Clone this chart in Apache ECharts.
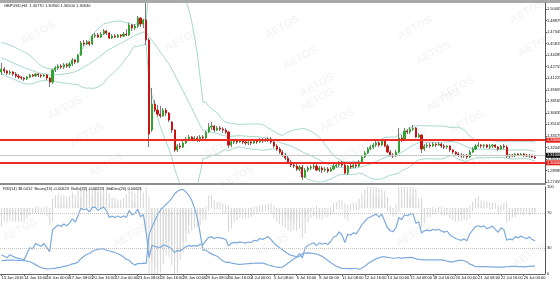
<!DOCTYPE html>
<html><head><meta charset="utf-8">
<script src="https://cdn.jsdelivr.net/npm/echarts@6/dist/echarts.min.js"></script>
<style>html,body{margin:0;padding:0;background:#fff}#c{width:560px;height:283px}</style>
</head><body><div id="c"></div>
<script>
const symbolName = 'GBPUSD,H4';
// x tick labels, one every 8 H4 bars
const tickLabels = ["13 Jun 2016","14 Jun 16:00","16 Jun 00:00","17 Jun 08:00","20 Jun 16:00","22 Jun 00:00","23 Jun 08:00","24 Jun 16:00","28 Jun 00:00","29 Jun 08:00","30 Jun 16:00","4 Jul 00:00","5 Jul 08:00","6 Jul 16:00","8 Jul 00:00","11 Jul 08:00","12 Jul 16:00","14 Jul 00:00","15 Jul 08:00","18 Jul 16:00","20 Jul 00:00","21 Jul 08:00","22 Jul 16:00","26 Jul 00:00"];
const barsPerTick = 8;
const totalSlots = 192;
// closes of the bars before the visible window (indicator warm-up)
const priorCloses = [1.4510,1.4525,1.4505,1.4490,1.4500,1.4480,1.4460,1.4440,1.4425,1.4410,1.4430,1.4420,1.4390,1.4350,1.4300,1.4270,1.4260,1.4200,1.4225];
// visible candles: [open, high, low, close]
const candles = [
[1.4205,1.4324,1.4165,1.4244],[1.4244,1.4271,1.4191,1.4218],[1.4218,1.4231,1.4165,1.4191],[1.4191,1.4231,1.4165,1.4205],
[1.4205,1.4218,1.4152,1.4178],[1.4178,1.4205,1.4125,1.4152],[1.4152,1.4178,1.4112,1.4138],[1.4138,1.4152,1.4099,1.4125],
[1.4125,1.4138,1.4085,1.4112],[1.4112,1.4152,1.4099,1.4138],[1.4138,1.4178,1.4125,1.4165],[1.4165,1.4178,1.4138,1.4152],
[1.4152,1.4191,1.4138,1.4178],[1.4178,1.4191,1.4138,1.4165],[1.4165,1.4178,1.4125,1.4152],[1.4152,1.4178,1.4138,1.4165],
[1.4165,1.4178,1.4099,1.4125],[1.4125,1.4138,1.4006,1.4072],[1.4072,1.4244,1.4045,1.4231],[1.4231,1.4284,1.4205,1.4258],
[1.4258,1.4311,1.4231,1.4284],[1.4284,1.4311,1.4244,1.4271],[1.4271,1.4324,1.4244,1.4298],[1.4298,1.4324,1.4258,1.4284],
[1.4284,1.4337,1.4258,1.4311],[1.4311,1.4390,1.4284,1.4364],[1.4364,1.4377,1.4311,1.4337],[1.4337,1.4444,1.4324,1.4430],
[1.4430,1.4616,1.4417,1.4590],[1.4590,1.4629,1.4550,1.4576],[1.4576,1.4629,1.4563,1.4603],[1.4603,1.4616,1.4550,1.4576],
[1.4576,1.4709,1.4563,1.4682],[1.4682,1.4722,1.4656,1.4696],[1.4696,1.4722,1.4656,1.4669],[1.4669,1.4735,1.4656,1.4709],
[1.4709,1.4775,1.4696,1.4749],[1.4749,1.4762,1.4696,1.4722],[1.4722,1.4735,1.4643,1.4656],[1.4656,1.4709,1.4643,1.4682],
[1.4682,1.4709,1.4656,1.4669],[1.4669,1.4709,1.4656,1.4696],[1.4696,1.4709,1.4656,1.4682],[1.4682,1.4735,1.4669,1.4709],
[1.4709,1.4775,1.4682,1.4696],[1.4696,1.4855,1.4682,1.4828],[1.4828,1.4842,1.4749,1.4789],[1.4789,1.4842,1.4762,1.4815],
[1.4815,1.4948,1.4789,1.4921],[1.4921,1.4935,1.4802,1.4842],[1.4842,1.4908,1.4789,1.4895],[1.4895,1.5120,1.4563,1.4629],
[1.4629,1.4656,1.3209,1.3382],[1.3435,1.3992,1.3408,1.3780],[1.3780,1.3833,1.3674,1.3700],[1.3700,1.3767,1.3621,1.3647],
[1.3647,1.3754,1.3594,1.3621],[1.3621,1.3727,1.3608,1.3700],[1.3700,1.3727,1.3621,1.3661],[1.3661,1.3674,1.3541,1.3568],
[1.3541,1.3554,1.3395,1.3435],[1.3435,1.3448,1.3143,1.3170],[1.3170,1.3249,1.3143,1.3223],[1.3223,1.3263,1.3183,1.3209],
[1.3209,1.3289,1.3196,1.3263],[1.3263,1.3342,1.3249,1.3316],[1.3316,1.3369,1.3289,1.3342],[1.3342,1.3355,1.3289,1.3316],
[1.3316,1.3355,1.3289,1.3329],[1.3329,1.3355,1.3276,1.3302],[1.3302,1.3369,1.3276,1.3342],[1.3342,1.3369,1.3302,1.3329],
[1.3329,1.3422,1.3302,1.3408],[1.3408,1.3528,1.3395,1.3475],[1.3475,1.3541,1.3435,1.3488],[1.3488,1.3501,1.3408,1.3435],
[1.3435,1.3488,1.3422,1.3462],[1.3462,1.3488,1.3422,1.3448],[1.3448,1.3475,1.3395,1.3435],[1.3435,1.3462,1.3382,1.3408],
[1.3408,1.3422,1.3196,1.3236],[1.3236,1.3302,1.3209,1.3276],[1.3276,1.3316,1.3249,1.3289],[1.3289,1.3302,1.3249,1.3276],
[1.3276,1.3316,1.3263,1.3289],[1.3289,1.3316,1.3249,1.3276],[1.3276,1.3302,1.3236,1.3263],[1.3263,1.3302,1.3236,1.3276],
[1.3276,1.3289,1.3236,1.3263],[1.3263,1.3316,1.3249,1.3289],[1.3289,1.3316,1.3249,1.3276],[1.3276,1.3329,1.3263,1.3302],
[1.3302,1.3329,1.3263,1.3289],[1.3289,1.3329,1.3276,1.3302],[1.3302,1.3342,1.3276,1.3316],[1.3316,1.3342,1.3249,1.3276],
[1.3276,1.3302,1.3196,1.3223],[1.3223,1.3249,1.3156,1.3183],[1.3183,1.3209,1.3117,1.3143],[1.3143,1.3170,1.3077,1.3103],
[1.3103,1.3130,1.3037,1.3063],[1.3063,1.3090,1.2984,1.3010],[1.3010,1.3037,1.2944,1.2971],[1.2971,1.2997,1.2931,1.2957],
[1.2957,1.2984,1.2891,1.2917],[1.2917,1.2971,1.2891,1.2944],[1.2944,1.2971,1.2772,1.2811],[1.2811,1.2931,1.2798,1.2904],
[1.2904,1.2957,1.2878,1.2931],[1.2931,1.2971,1.2904,1.2944],[1.2944,1.2984,1.2917,1.2957],[1.2957,1.2997,1.2891,1.2904],
[1.2904,1.2957,1.2878,1.2931],[1.2931,1.2957,1.2864,1.2904],[1.2904,1.2944,1.2878,1.2917],[1.2917,1.2944,1.2864,1.2891],
[1.2891,1.2944,1.2878,1.2917],[1.2917,1.2984,1.2904,1.2957],[1.2957,1.2997,1.2931,1.2971],[1.2971,1.3024,1.2944,1.3010],
[1.3010,1.3024,1.2944,1.2971],[1.2971,1.2984,1.2851,1.2864],[1.2864,1.2971,1.2838,1.2957],[1.2957,1.2984,1.2917,1.2944],
[1.2944,1.2997,1.2931,1.2971],[1.2971,1.2997,1.2931,1.2957],[1.2957,1.3037,1.2944,1.3010],[1.3010,1.3103,1.2997,1.3077],
[1.3077,1.3156,1.3063,1.3130],[1.3130,1.3209,1.3117,1.3183],[1.3183,1.3236,1.3170,1.3209],[1.3209,1.3263,1.3183,1.3236],
[1.3236,1.3289,1.3209,1.3263],[1.3263,1.3289,1.3209,1.3236],[1.3236,1.3316,1.3223,1.3289],[1.3289,1.3302,1.3209,1.3223],
[1.3223,1.3249,1.3130,1.3143],[1.3143,1.3170,1.3090,1.3103],[1.3103,1.3130,1.3063,1.3090],[1.3090,1.3170,1.3077,1.3143],
[1.3143,1.3462,1.3130,1.3329],[1.3329,1.3369,1.3276,1.3302],[1.3302,1.3462,1.3289,1.3422],[1.3422,1.3448,1.3382,1.3408],
[1.3408,1.3475,1.3382,1.3448],[1.3448,1.3501,1.3422,1.3462],[1.3462,1.3475,1.3329,1.3342],[1.3342,1.3395,1.3329,1.3369],
[1.3369,1.3382,1.3130,1.3183],[1.3183,1.3249,1.3156,1.3223],[1.3223,1.3263,1.3196,1.3236],[1.3236,1.3263,1.3196,1.3223],
[1.3223,1.3276,1.3209,1.3249],[1.3249,1.3263,1.3209,1.3236],[1.3236,1.3276,1.3223,1.3249],[1.3249,1.3263,1.3196,1.3223],
[1.3223,1.3249,1.3183,1.3209],[1.3209,1.3236,1.3183,1.3223],[1.3223,1.3236,1.3143,1.3170],[1.3170,1.3183,1.3117,1.3143],
[1.3143,1.3156,1.3090,1.3117],[1.3117,1.3143,1.3077,1.3103],[1.3103,1.3130,1.3063,1.3090],[1.3090,1.3117,1.3063,1.3103],
[1.3103,1.3117,1.3050,1.3077],[1.3077,1.3170,1.3063,1.3143],[1.3143,1.3209,1.3130,1.3183],[1.3183,1.3249,1.3170,1.3223],
[1.3223,1.3276,1.3209,1.3236],[1.3236,1.3249,1.3196,1.3223],[1.3223,1.3249,1.3196,1.3236],[1.3236,1.3249,1.3196,1.3209],
[1.3209,1.3249,1.3183,1.3223],[1.3223,1.3249,1.3196,1.3236],[1.3236,1.3249,1.3196,1.3209],[1.3209,1.3223,1.3156,1.3183],
[1.3183,1.3236,1.3170,1.3223],[1.3223,1.3249,1.3183,1.3209],[1.3209,1.3236,1.3063,1.3090],[1.3090,1.3117,1.3063,1.3103],
[1.3103,1.3117,1.3077,1.3090],[1.3090,1.3130,1.3077,1.3117],[1.3117,1.3130,1.3090,1.3103],[1.3103,1.3130,1.3090,1.3117],
[1.3117,1.3130,1.3077,1.3103],[1.3103,1.3117,1.3077,1.3090],[1.3090,1.3117,1.3063,1.3103],[1.3103,1.3103,1.3063,1.3077],
[1.3077,1.3090,1.3050,1.3063]
];
const levels = [1.33000, 1.30000];
const priceTickStart = 1.27455, priceTickStep = 0.0153, priceMax = 1.51208;
const rsiLabels = [0, 30, 70, 100];
const rsiLevels = [30, 70];
const watermarks = [[38,33],[182,40],[282,27],[300,58],[317,85],[415,28],[433,53],[457,88],[527,12],[535,45],[65,108],[87,135],[106,165],[222,147],[237,177],[317,100],[337,120],[355,152],[443,100],[467,122],[488,157],[130,236],[272,245],[413,235],[530,255],[20,230]];

// ---- indicators from the candles ----
const n = candles.length;
const closes = priorCloses.concat(candles.map(c => c[3]));
const off = priorCloses.length;
const bbMid = [], bbUp = [], bbLo = [], sdv = [];
for (let i = 0; i < n; i++) {
  const j = i + off;
  const w = closes.slice(j - 19, j + 1);
  const m = w.reduce((a, b) => a + b, 0) / 20;
  const s = Math.sqrt(w.reduce((a, b) => a + (b - m) * (b - m), 0) / 20);
  bbMid.push(m); bbUp.push(m + 2 * s); bbLo.push(m - 2 * s); sdv.push(s);
}
let ag = 0, al = 0; const rsiAll = [];
for (let j = 1; j < closes.length; j++) {
  const d = closes[j] - closes[j - 1];
  const g = Math.max(d, 0), l = Math.max(-d, 0);
  if (j <= 14) { ag += g / 14; al += l / 14; } else { ag = (ag * 13 + g) / 14; al = (al * 13 + l) / 14; }
  rsiAll[j] = al === 0 ? 100 : 100 - 100 / (1 + ag / al);
}
const rsi = candles.map((c, i) => rsiAll[i + off]);
const ema = []; let e = closes.slice(0, 13).reduce((a, b) => a + b, 0) / 13;
for (let j = 13; j < closes.length; j++) { e = e + (closes[j] - e) * 2 / 14; ema[j] = e; }
const bulls = candles.map((c, i) => c[1] - ema[i + off]);
const bears = candles.map((c, i) => c[2] - ema[i + off]);

const last = candles[n - 1];
const slots = Array.from({length: totalSlots}, (_, i) => String(i));
const FF = '"Liberation Sans", Arial, sans-serif';

const chart = echarts.init(document.getElementById('c'), null, {renderer: 'canvas'});
const graphics = [
  {type: 'rect', shape: {x: 0, y: 0, width: 560, height: 3}, style: {fill: '#a9a9a9'}, silent: true},
  {type: 'rect', shape: {x: 0, y: 183, width: 546, height: 2}, style: {fill: '#8c8c8c'}, silent: true},
  {type: 'text', x: 4, y: 4, style: {text: symbolName + '  ' + last.map(v => v.toFixed(5)).join(' '), font: '4px ' + FF, fill: '#111'}, silent: true},
  {type: 'text', x: 3, y: 187, z: 10, style: {text: 'RSI(14) ' + rsi[n-1].toFixed(4) + '  Bears(13) ' + bears[n-1].toFixed(5) + '  Bulls(13) ' + bulls[n-1].toFixed(5) + '  StdDev(20) ' + sdv[n-1].toFixed(5), font: '4px ' + FF, fill: '#111'}, silent: true}
];
watermarks.forEach(p => graphics.push({type: 'text', x: p[0], y: p[1], rotation: 0.5, z: 0,
  style: {text: 'AETOS', font: 'bold 11px ' + FF, fill: 'rgba(120,120,120,0.07)', align: 'center', verticalAlign: 'middle'}, silent: true}));

chart.setOption({
  animation: false,
  backgroundColor: '#fff',
  graphic: graphics,
  grid: [
    {left: 0, right: 15, top: 3, height: 179, outerBoundsMode: 'none', containLabel: false},
    {left: 0, right: 15, top: 187, height: 87, outerBoundsMode: 'none', containLabel: false}
  ],
  xAxis: [
    {type: 'category', gridIndex: 0, data: slots, show: false},
    {type: 'category', gridIndex: 1, data: slots,
      axisLine: {show: true, lineStyle: {color: '#666'}},
      axisTick: {show: true, interval: barsPerTick - 1, alignWithLabel: true, length: 2, lineStyle: {color: '#666'}},
      axisLabel: {interval: barsPerTick - 1, fontSize: 4, fontFamily: FF, color: '#111', margin: 2, align: 'left',
        formatter: (v, idx) => tickLabels[idx / barsPerTick] || ''}}
  ],
  yAxis: [
    {type: 'value', gridIndex: 0, position: 'right', min: priceTickStart, max: priceMax, interval: priceTickStep,
      axisLine: {show: true, lineStyle: {color: '#555'}},
      axisTick: {show: true, length: 2, lineStyle: {color: '#555'}},
      splitLine: {show: false},
      axisLabel: {fontSize: 4, fontFamily: FF, color: '#111', margin: 2, showMaxLabel: false, showMinLabel: true,
        formatter: v => v.toFixed(5)}},
    {type: 'value', gridIndex: 1, position: 'right', min: 0, max: 100, interval: 10,
      axisLine: {show: true, lineStyle: {color: '#555'}},
      axisTick: {show: false}, splitLine: {show: false},
      axisLabel: {fontSize: 4, fontFamily: FF, color: '#111', margin: 2, showMaxLabel: true,
        formatter: v => rsiLabels.includes(Math.round(v)) ? String(Math.round(v)) : ''}},
    {type: 'value', gridIndex: 1, show: false, min: 0, max: Math.max(...sdv) * 1.03},
    {type: 'value', gridIndex: 1, show: false, min: -0.057, max: 0.018}
  ],
  series: [
    {type: 'line', name: 'BB upper', xAxisIndex: 0, yAxisIndex: 0, data: bbUp, showSymbol: false, lineStyle: {color: '#a6d8cc', width: 1}, z: 2},
    {type: 'line', name: 'BB mid', xAxisIndex: 0, yAxisIndex: 0, data: bbMid, showSymbol: false, lineStyle: {color: '#a6d8cc', width: 1}, z: 2},
    {type: 'line', name: 'BB lower', xAxisIndex: 0, yAxisIndex: 0, data: bbLo, showSymbol: false, lineStyle: {color: '#a6d8cc', width: 1}, z: 2},
    {type: 'candlestick', name: 'wicks', xAxisIndex: 0, yAxisIndex: 0, barWidth: 1, z: 3,
      data: candles.map(c => [c[0], c[3], c[2], c[1]]),
      itemStyle: {color: '#7a7a7a', color0: '#7a7a7a', borderColor: '#7a7a7a', borderColor0: '#7a7a7a', borderWidth: 1}},
    {type: 'candlestick', name: 'bodies', xAxisIndex: 0, yAxisIndex: 0, barWidth: 1.6, z: 4,
      data: candles.map(c => [c[0], c[3], Math.min(c[0], c[3]), Math.max(c[0], c[3])]),
      itemStyle: {color: '#2fa52f', color0: '#c81414', borderColor: '#2fa52f', borderColor0: '#c81414', borderWidth: 1},
      markLine: {silent: true, symbol: 'none', animation: false,
        data: levels.map(v => ({yAxis: v, lineStyle: {color: '#ee2b24', width: 2, type: 'solid'},
          label: {show: true, position: 'end', distance: 1, formatter: p => p.value.toFixed(5), color: '#fff', backgroundColor: '#e3211d', fontSize: 4, fontFamily: FF, padding: [1, 1, 0, 1]}}))
          .concat([{yAxis: last[3], lineStyle: {color: '#c8c8c8', width: 1, type: 'solid'},
          label: {show: true, position: 'end', distance: 1, formatter: p => p.value.toFixed(5), color: '#fff', backgroundColor: '#111', fontSize: 4, fontFamily: FF, padding: [1, 1, 0, 1]}}])}},
    {type: 'bar', name: 'Bulls', xAxisIndex: 1, yAxisIndex: 3, data: bulls, barWidth: 1, barGap: '-100%', itemStyle: {color: '#d6d6d6'}, z: 1},
    {type: 'bar', name: 'Bears', xAxisIndex: 1, yAxisIndex: 3, data: bears, barWidth: 1, barGap: '-100%', itemStyle: {color: '#d6d6d6'}, z: 1},
    {type: 'line', name: 'StdDev', xAxisIndex: 1, yAxisIndex: 2, data: sdv, showSymbol: false, lineStyle: {color: '#7eaadc', width: 1.2}, z: 3},
    {type: 'line', name: 'RSI', xAxisIndex: 1, yAxisIndex: 1, data: rsi, showSymbol: false, lineStyle: {color: '#7eaadc', width: 1.2}, z: 3,
      markLine: {silent: true, symbol: 'none', animation: false, label: {show: false},
        data: rsiLevels.map(v => ({yAxis: v})), lineStyle: {color: '#c4c4c4', width: 1, type: 'dotted'}}}
  ]
});
</script></body></html>
